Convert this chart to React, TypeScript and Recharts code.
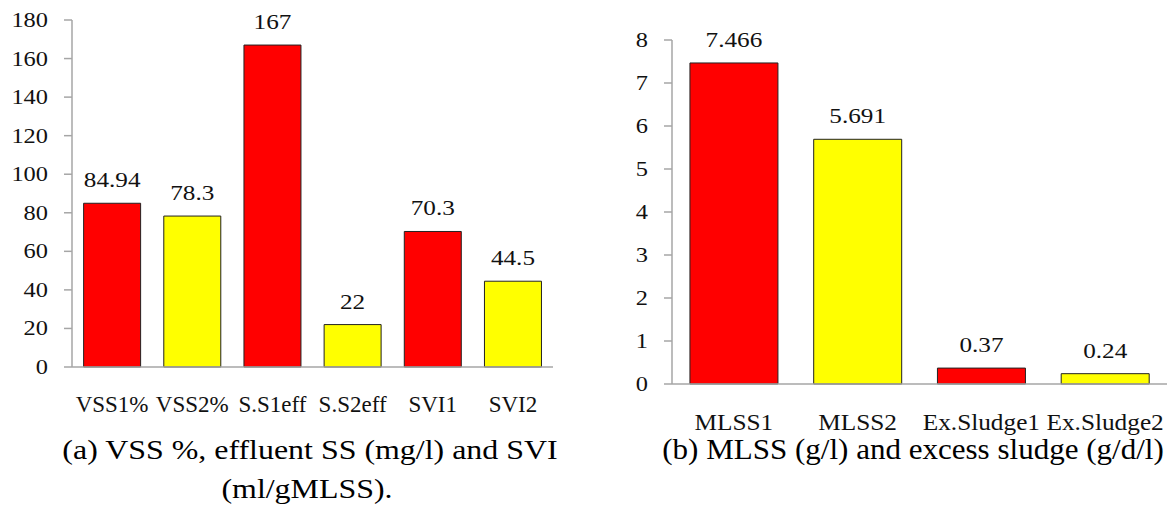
import React from "react";
import { BarChart, Bar, XAxis, YAxis, Cell, LabelList } from "recharts";

const leftCategories = ["VSS1%", "VSS2%", "S.S1eff", "S.S2eff", "SVI1", "SVI2"];
const leftValues = [84.94, 78.3, 167, 22, 70.3, 44.5];
const leftTicks = [0, 20, 40, 60, 80, 100, 120, 140, 160, 180];

const rightCategories = ["MLSS1", "MLSS2", "Ex.Sludge1", "Ex.Sludge2"];
const rightValues = [7.466, 5.691, 0.37, 0.24];
const rightTicks = [0, 1, 2, 3, 4, 5, 6, 7, 8];

const barColors = ["#ff0000", "#ffff00"];

const FONT = '"Liberation Serif", "Times New Roman", serif';
const AXIS_GREY = "#a6a6a6";
const INK = "#111";

// the source image is stretched sideways a bit, so text is widened with scaleX
function XTick({ x, y, payload, dy, sx }: { x?: number; y?: number; payload?: { value: string }; dy: number; sx: number }) {
    return (
        <text
            transform={`translate(${x},${(y ?? 0) + dy}) scale(${sx},1)`}
            textAnchor="middle"
            fontFamily={FONT}
            fontSize={23}
            fill={INK}
        >
            {payload?.value}
        </text>
    );
}

function YTick({ x, y, payload }: { x?: number; y?: number; payload?: { value: number } }) {
    return (
        <text transform={`translate(${x},${(y ?? 0) + 7}) scale(1.22,1)`} textAnchor="end" fontFamily={FONT} fontSize={20} fill={INK}>
            {payload?.value}
        </text>
    );
}

function ValueLabel(props: { x?: number; y?: number; width?: number; value?: number }) {
    const { x = 0, y = 0, width = 0, value } = props;
    return (
        <text transform={`translate(${x + width / 2},${y - 16}) scale(1.2,1)`} textAnchor="middle" fontFamily={FONT} fontSize={21} fill={INK}>
            {value}
        </text>
    );
}

function Panel({
    names,
    values,
    ticks,
    width,
    height,
    top,
    labelDy,
    labelSx,
}: {
    names: string[];
    values: number[];
    ticks: number[];
    width: number;
    height: number;
    top: number;
    labelDy: number;
    labelSx: number;
}) {
    const data = names.map((name, i) => ({ name, value: values[i] }));
    return (
        <BarChart
            width={width}
            height={height}
            data={data}
            margin={{ top, right: 7, bottom: 0, left: 0 }}
            barCategoryGap="14.5%"
        >
            <XAxis
                dataKey="name"
                axisLine={{ stroke: AXIS_GREY, strokeWidth: 1.5 }}
                tickLine={false}
                tickSize={0}
                tickMargin={0}
                height={53}
                interval={0}
                tick={<XTick dy={labelDy} sx={labelSx} />}
            />
            <YAxis
                width={72}
                domain={[0, ticks[ticks.length - 1]]}
                ticks={ticks}
                interval={0}
                axisLine={{ stroke: AXIS_GREY, strokeWidth: 1.5 }}
                tickLine={{ stroke: AXIS_GREY, strokeWidth: 1.5 }}
                tickSize={8}
                tickMargin={16}
                tick={<YTick />}
            />
            <Bar dataKey="value" stroke="#222" strokeWidth={1} isAnimationActive={false}>
                {data.map((d, i) => (
                    <Cell key={d.name} fill={barColors[i % 2]} />
                ))}
                <LabelList dataKey="value" content={<ValueLabel />} />
            </Bar>
        </BarChart>
    );
}

const captionStyle: React.CSSProperties = {
    position: "absolute",
    whiteSpace: "nowrap",
    fontFamily: FONT,
    color: "#000",
    lineHeight: 1,
};

export default function App() {
    return (
        <div style={{ position: "absolute", left: 0, top: 0, width: 1174, height: 506, background: "#fff", fontFamily: FONT }}>
            <div style={{ position: "absolute", left: 0, top: 0 }}>
                <Panel names={leftCategories} values={leftValues} ticks={leftTicks} width={560} height={420} top={20} labelDy={45} labelSx={1} />
            </div>
            <div style={{ position: "absolute", left: 600, top: 0 }}>
                <Panel names={rightCategories} values={rightValues} ticks={rightTicks} width={574} height={437} top={40} labelDy={46} labelSx={1.1} />
            </div>
            <div style={{ ...captionStyle, left: 310, top: 436, fontSize: 28, transform: "translateX(-50%) scaleX(1.14)" }}>
                (a) VSS %, effluent SS (mg/l) and SVI
            </div>
            <div style={{ ...captionStyle, left: 307, top: 475, fontSize: 28, transform: "translateX(-50%) scaleX(1.14)" }}>
                (ml/gMLSS).
            </div>
            <div style={{ ...captionStyle, left: 913, top: 435, fontSize: 29, transform: "translateX(-50%) scaleX(1.07)" }}>
                (b) MLSS (g/l) and excess sludge (g/d/l)
            </div>
        </div>
    );
}
